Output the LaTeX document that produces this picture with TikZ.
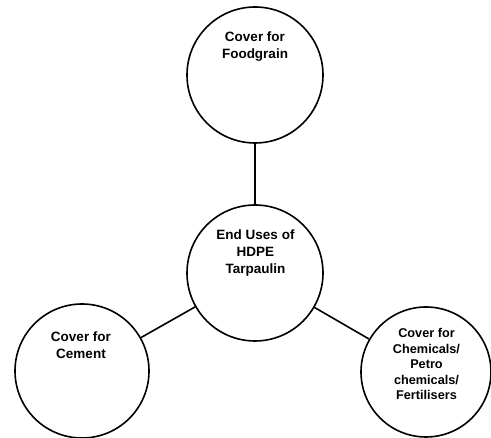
\documentclass[tikz,border=0pt]{standalone}
\usepackage{fontspec}
\setmainfont{Liberation Sans}
\begin{document}
\begin{tikzpicture}[x=1pt,y=1pt,
  usecircle/.style={draw=black, circle, line width=1.6pt, inner sep=0pt, minimum size=#1},
  usetext/.style={align=center, font=\bfseries\fontsize{13.5}{17}\selectfont, inner sep=0pt},
  smalltext/.style={align=center, font=\bfseries\fontsize{12.7}{15.5}\selectfont, inner sep=0pt},
  link/.style={line width=1.6pt}]
\useasboundingbox (0,0) rectangle (491,438);
\node[usecircle=136pt] (top) at (255,363) {};
\node[usecircle=136pt] (mid) at (255,165) {};
\node[usecircle=134pt] (left) at (82,67) {};
\node[usecircle=130pt] (right) at (426,66) {};
\node[usetext] (ttop) at (255,391) {Cover for\\Foodgrain};
\node[usetext] (tmid) at (255.5,185) {End Uses of\\HDPE\\Tarpaulin};
\node[usetext] (tleft) at (81,92.5) {Cover for\\Cement};
\node[smalltext] (tright) at (426.5,74) {Cover for\\Chemicals/\\Petro\\chemicals/\\Fertilisers};
\draw[link] (top) -- (mid);
\draw[link] (mid) -- (left);
\draw[link] (mid) -- (right);
\end{tikzpicture}
\end{document}
